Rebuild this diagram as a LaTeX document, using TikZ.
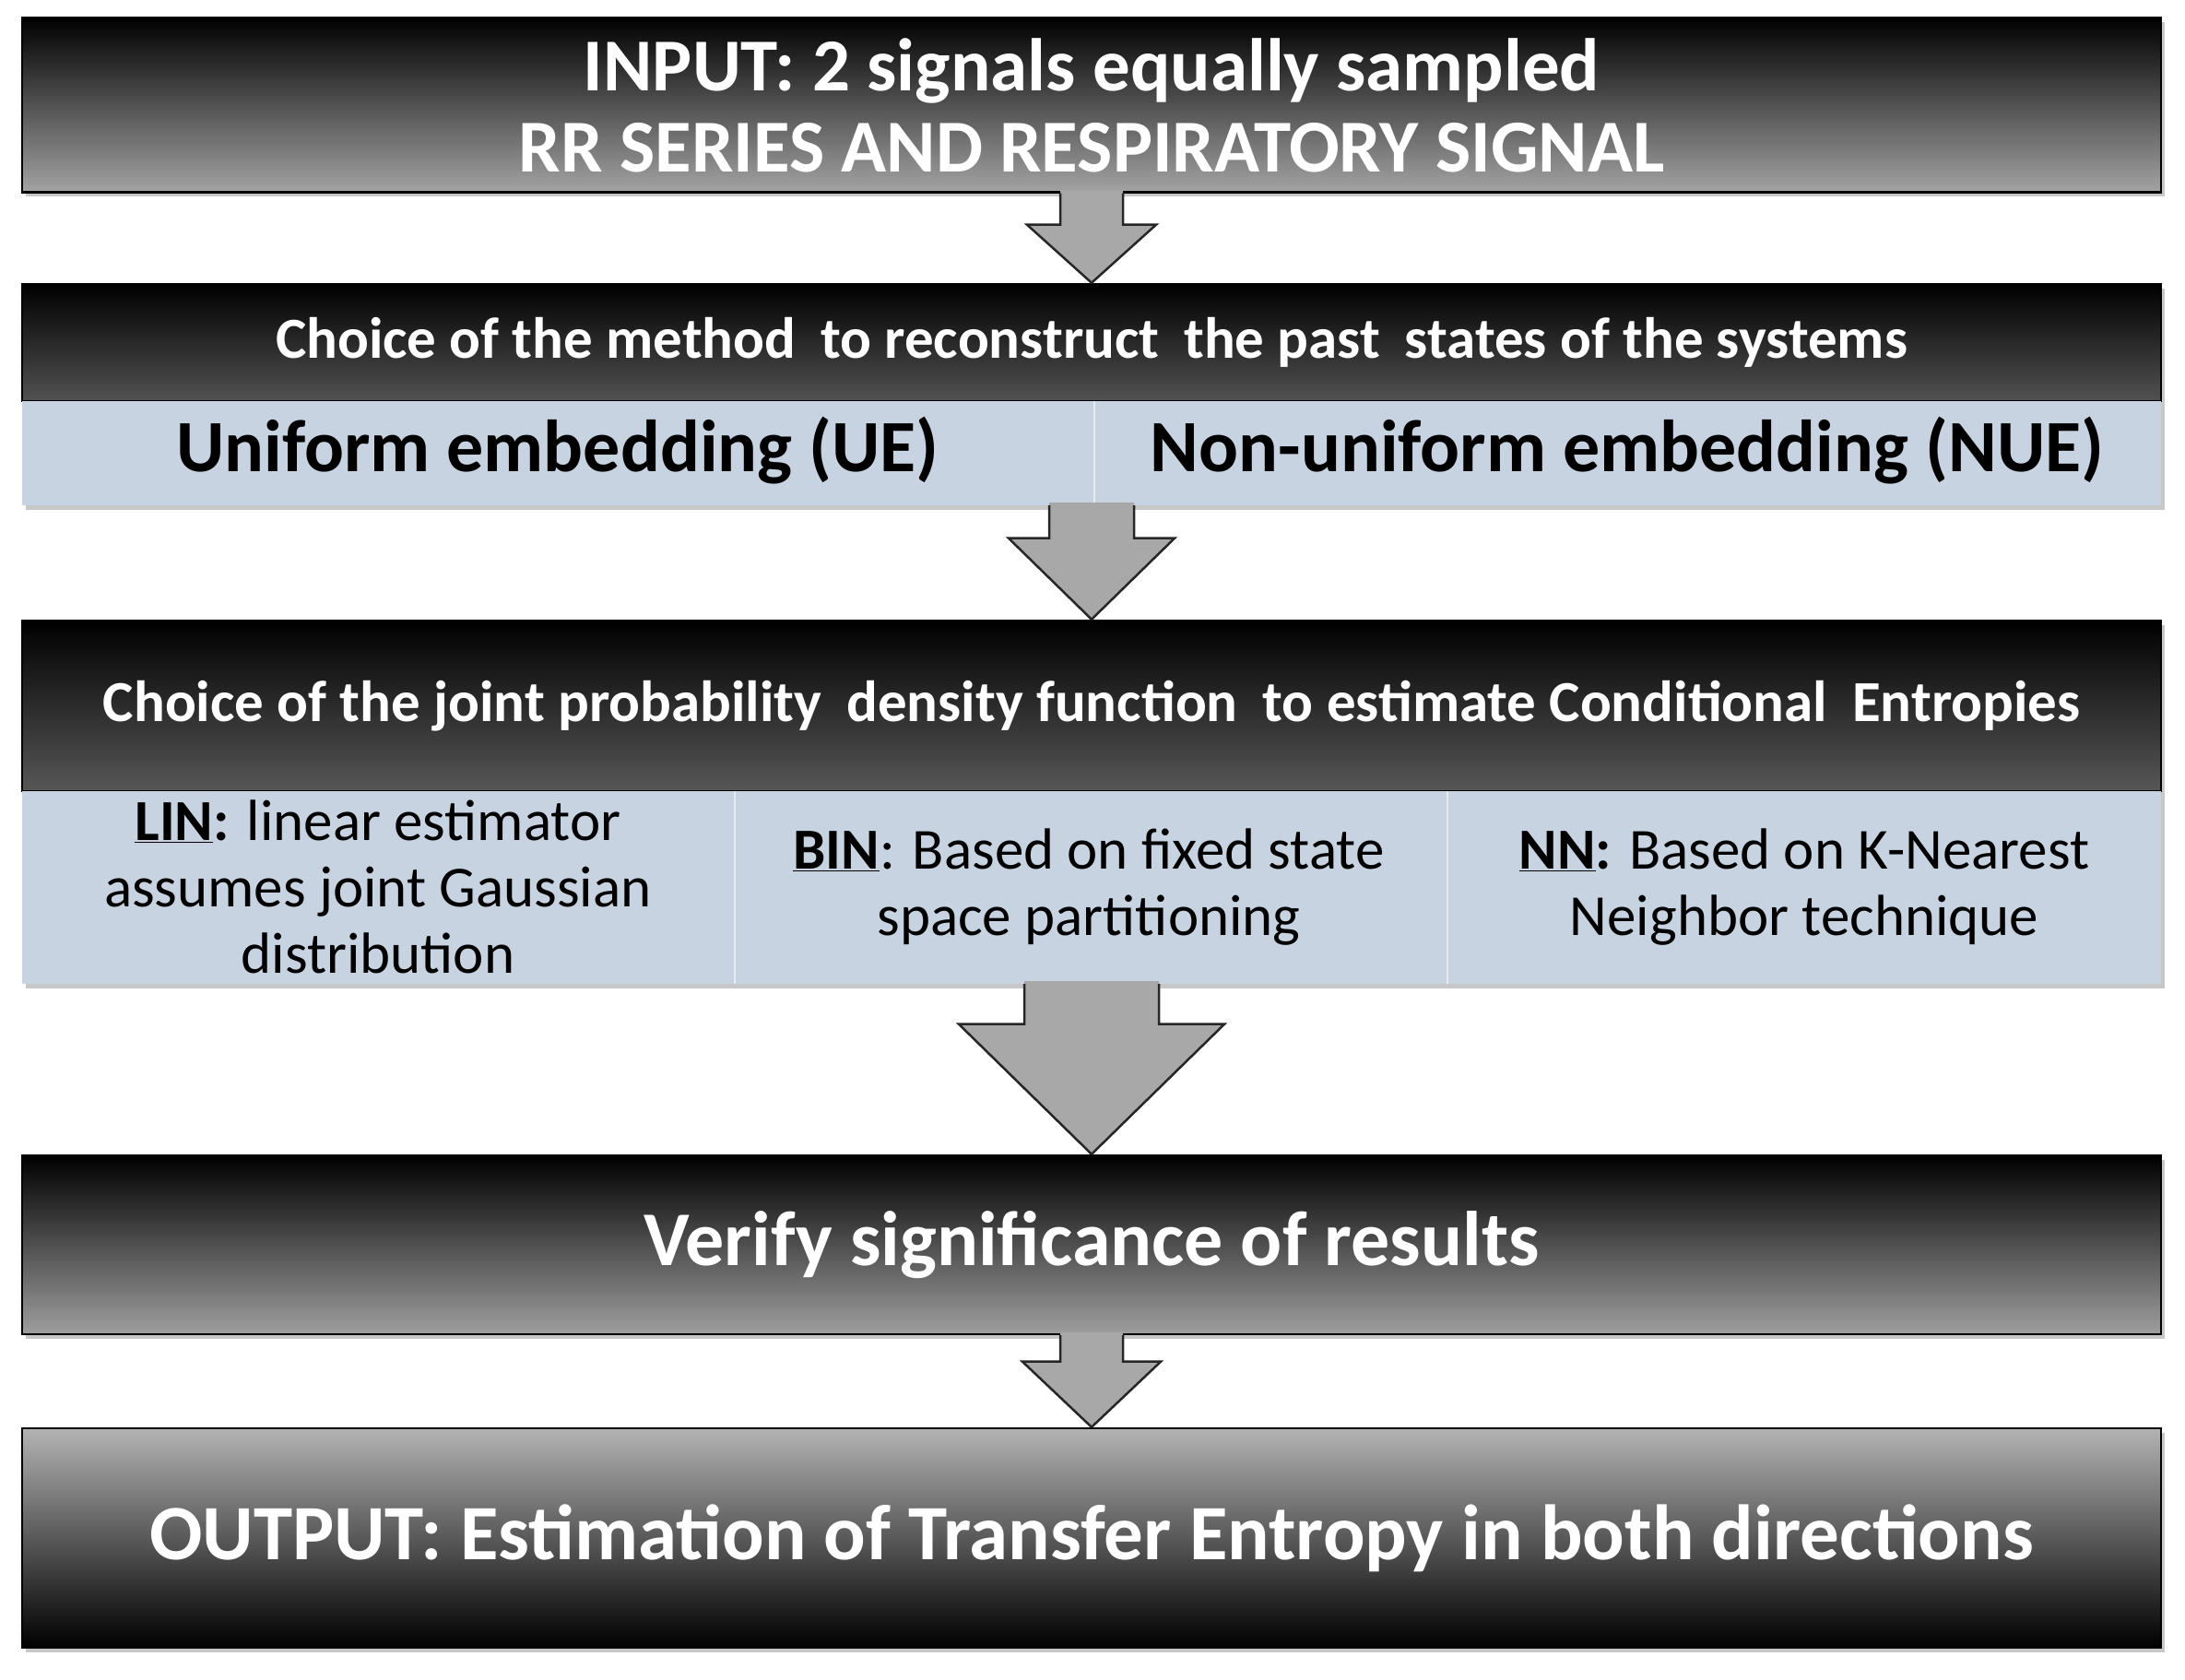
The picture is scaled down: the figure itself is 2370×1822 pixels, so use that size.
\documentclass[tikz,border=0pt]{standalone}
\usepackage{fontspec}
\setmainfont{Carlito}
\usetikzlibrary{calc,shadows}
\definecolor{panelblue}{RGB}{199,211,225}
\definecolor{arrowgray}{RGB}{168,168,168}
\tikzset{
  boxshadow/.style={drop shadow={shadow xshift=4pt, shadow yshift=-5pt, opacity=0.22, fill=black}},
  darkbox/.style={draw=black, line width=2.5pt, top color=black, bottom color=#1, text=white,
    minimum width=2320pt, inner sep=0pt, align=center, boxshadow},
  lightbox/.style={draw=none, fill=panelblue, minimum width=2320pt, inner sep=0pt, boxshadow},
  celltext/.style={text=black, align=center, inner sep=0pt, font=\fontsize{63}{72}\selectfont},
  arrowfill/.style={fill=arrowgray},
  arrowline/.style={draw=black!85, line width=2.5pt, line join=miter},
  divider/.style={draw=white, line width=2pt, opacity=0.55}
}
\newcommand{\wgap}{\hspace{0.2em} }
\newcommand{\blockarrow}[5]{%
  \fill[arrowfill] let \p1=(#1), \p2=(#2) in
    (\x1-#3pt,\y1+3pt) -- (\x1-#3pt,\y2+#5pt) -- (\x1-#4pt,\y2+#5pt) -- (\x2,\y2)
    -- (\x1+#4pt,\y2+#5pt) -- (\x1+#3pt,\y2+#5pt) -- (\x1+#3pt,\y1+3pt) -- cycle;
  \draw[arrowline] let \p1=(#1), \p2=(#2) in
    (\x1-#3pt,\y1) -- (\x1-#3pt,\y2+#5pt) -- (\x1-#4pt,\y2+#5pt) -- (\x2,\y2)
    -- (\x1+#4pt,\y2+#5pt) -- (\x1+#3pt,\y2+#5pt) -- (\x1+#3pt,\y1);
}
\begin{document}
\begin{tikzpicture}[x=1pt,y=1pt]
\useasboundingbox[fill=white] (0,0) rectangle (2370,1822);

% Box 1: input
\node[darkbox=black!36, minimum height=189pt, font=\fontsize{81}{88}\selectfont\bfseries]
  (input) at (1184,1708) {INPUT: 2 signals equally sampled\\RR SERIES AND RESPIRATORY SIGNAL};

% Box 2: embedding
\node[darkbox=black!68, minimum height=127pt, font=\fontsize{63}{70}\selectfont\bfseries]
  (emb) at (1184,1450.5) {Choice of the method\wgap to reconstruct\wgap the past\wgap states of the systems};
\node[lightbox, minimum height=113pt] (embpanel) at (1184,1330.5) {};
\draw[divider] (1187,1387) -- (1187,1274);
\node[celltext, font=\fontsize{80}{90}\selectfont\bfseries] (ue) at (605,1333) {Uniform embedding (UE)};
\node[celltext, font=\fontsize{80}{90}\selectfont\bfseries] (nue) at (1765,1333) {Non-uniform embedding (NUE)};

% Box 3: estimators
\node[darkbox=black!66, minimum height=185pt, font=\fontsize{63}{70}\selectfont\bfseries]
  (pdf) at (1184,1056.5) {Choice of the joint probability\wgap density function\wgap to estimate Conditional\wgap Entropies};
\node[lightbox, minimum height=209pt] (pdfpanel) at (1184,859.5) {};
\draw[divider] (797,964) -- (797,755);
\draw[divider] (1570,964) -- (1570,755);
\node[celltext] (lin) at (410,860) {\underline{\textbf{LIN}}\textbf{:} linear estimator\\assumes joint Gaussian\\distribution};
\node[celltext] (bin) at (1181,860) {\underline{\textbf{BIN}}: Based on fixed state\\space partitioning};
\node[celltext] (nn) at (1957,860) {\underline{\textbf{NN}}\textbf{:} Based on K-Nearest\\Neighbor technique};

% Box 4: significance
\node[darkbox=black!38, minimum height=194pt, font=\fontsize{84}{90}\selectfont\bfseries]
  (verify) at (1184,472) {Verify significance of results};

% Box 5: output
\node[darkbox=black!30, minimum height=238pt, font=\fontsize{85}{95}\selectfont\bfseries,
  top color=black!30, bottom color=black]
  (output) at (1184,154) {OUTPUT: Estimation of Transfer Entropy in both directions};

% Block arrows
\blockarrow{input.south}{emb.north}{34}{70}{63}
\blockarrow{embpanel.south}{pdf.north}{46}{90}{88}
\blockarrow{pdfpanel.south}{verify.north}{73}{144}{141}
\blockarrow{verify.south}{output.north}{34}{75}{71}
\end{tikzpicture}
\end{document}
